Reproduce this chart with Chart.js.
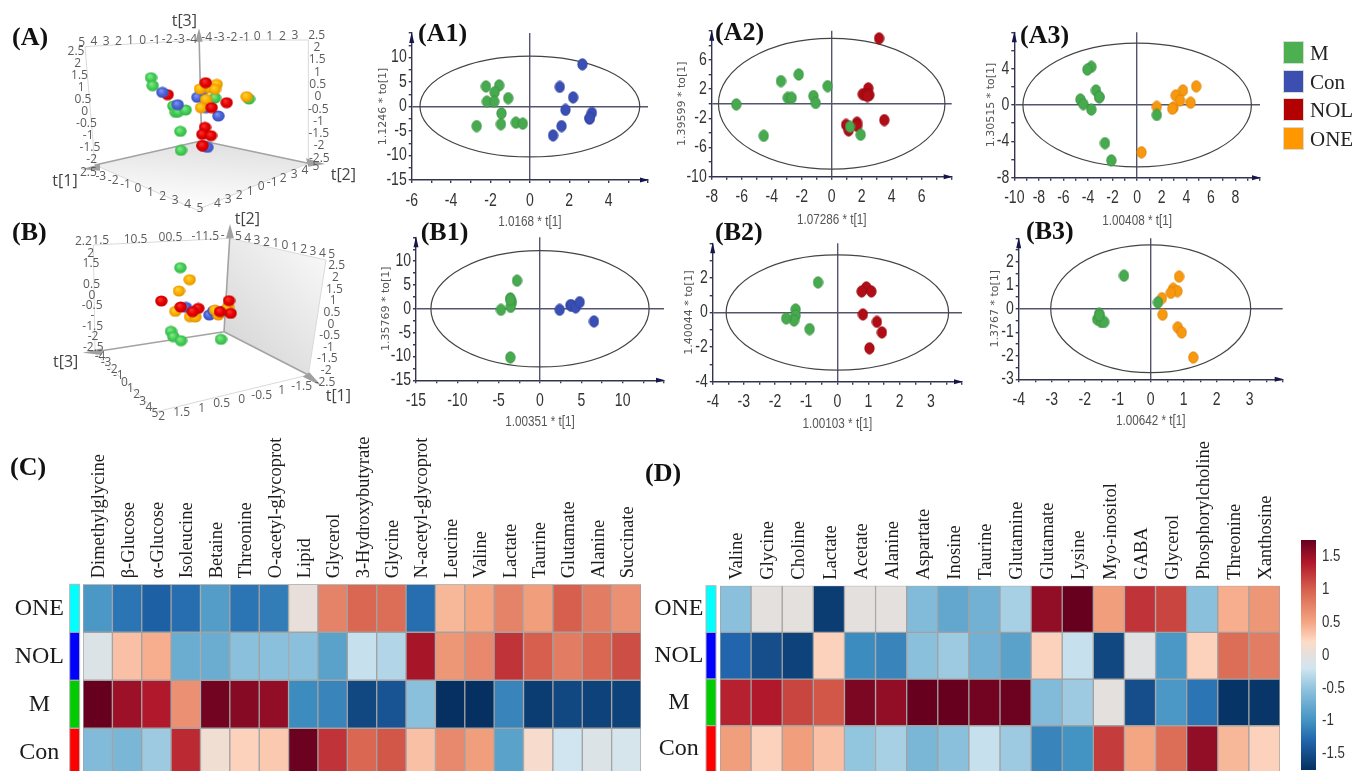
<!DOCTYPE html>
<html>
<head>
<meta charset="utf-8">
<title>PCA and OPLS-DA scores with metabolite heatmaps</title>
<script src="https://cdn.jsdelivr.net/npm/chart.js@4/dist/chart.umd.min.js"></script>
<style>
  html, body { margin: 0; padding: 0; background: #fff; overflow: hidden; }
  #page { position: relative; width: 1354px; height: 771px; overflow: hidden; }
  #page canvas { position: absolute; left: 0; top: 0; pointer-events: none; filter: blur(0.35px); }
  .tag { position: absolute; font: bold 26px "Liberation Serif", serif; color: #111; line-height: 30px; white-space: nowrap; }
  .swatch { position: absolute; left: 1283px; width: 21px; height: 23px; border: 1px solid #d5dcd5; box-sizing: border-box; }
  .key { position: absolute; left: 1310px; font: 21px "Liberation Serif", serif; color: #222; line-height: 24px; }
</style>
</head>
<body>
<div id="page"></div>
<script>
'use strict';

// ---- OPLS-DA score values, [t, to] ----
const a1Green = [[-2.23,4.1],[-1.56,4.3],[-1.79,2.9],[-1.1,1.7],[-2.18,1.0],[-1.81,1.0],[-1.44,-1.4],[-1.47,-3.6],[-2.7,-4.0],[-0.71,-3.3],[-0.36,-3.5]];
const a1Blue = [[2.67,8.6],[1.52,4.0],[2.2,1.85],[1.81,-0.7],[3.15,-1.3],[3.03,-2.5],[3.05,-2.3],[1.61,-4.0],[1.18,-5.9]];
const a2Green = [[-6.36,-0.1],[-4.53,-4.4],[-3.38,3.1],[-2.2,4.0],[-2.93,0.8],[-2.67,0.8],[-1.22,1.05],[-1.07,0.1],[-0.27,2.4],[1.93,-4.25],[1.22,-3.15]];
const a2Red = [[3.16,8.95],[2.44,2.1],[2.07,1.3],[2.27,1.2],[2.51,1.2],[2.38,1.05],[3.51,-2.25],[1.69,-2.6],[1.69,-3.05],[0.96,-2.9],[1.13,-3.65]];
const a3Green = [[-3.73,4.2],[-4.05,3.9],[-3.35,1.6],[-3.08,0.85],[-3.1,0.9],[-4.62,0.6],[-4.38,0.1],[-3.73,-0.5],[-2.62,-4.2],[-2.1,-6.1],[1.6,-1.1]];
const a3Orange = [[4.81,2.05],[3.73,1.6],[3.14,1.05],[3.49,0.5],[4.35,0.25],[2.95,-0.3],[2.86,-0.4],[1.6,-0.2],[0.35,-5.2]];
const b1Green = [[-2.78,5.9],[-3.59,2.2],[-3.39,1.4],[-3.55,0.4],[-4.72,-0.2],[-3.59,-10.2],[-3.6,1.9]];
const b1Blue = [[2.38,-0.2],[3.67,0.75],[3.85,0.7],[4.31,0.3],[4.8,1.4],[6.53,-2.65]];
const b2Green = [[-0.62,1.74],[-1.34,0.17],[-1.34,-0.17],[-1.39,-0.46],[-1.64,-0.34],[-0.89,-0.96]];
const b2Red = [[0.93,1.45],[0.78,1.22],[1.09,1.22],[0.82,-0.11],[1.27,-0.54],[1.43,-1.15],[1.03,-2.07]];
const b3Green = [[-0.81,1.41],[-1.56,-0.21],[-1.62,-0.45],[-1.5,-0.56],[-1.41,-0.56],[-1.56,-0.28],[0.22,0.27]];
const b3Orange = [[0.86,1.37],[0.68,0.85],[0.81,0.75],[0.61,0.68],[0.34,0.45],[0.36,-0.25],[0.82,-0.79],[0.94,-1.01],[1.29,-2.07]];

// tick labels that are printed, the other ticks stay unlabelled
const a1XTicks = [-6,-4,-2,0,2,4];
const a1YTicks = [-15,-10,-5,0,5,10];
const a2XTicks = [-8,-6,-4,-2,0,2,4,6];
const a2YTicks = [-10,-6,-2,2,6];
const a3XTicks = [-10,-8,-6,-4,-2,0,2,4,6,8];
const a3YTicks = [-8,-4,0,4];
const b1XTicks = [-15,-10,-5,0,5,10];
const b1YTicks = [-15,-10,-5,0,5,10];
const b2XTicks = [-4,-3,-2,-1,0,1,2,3];
const b2YTicks = [-4,-2,0,2];
const b3XTicks = [-4,-3,-2,-1,0,1,2,3];
const b3YTicks = [-3,-2,-1,0,1,2];

// ---- projected 3D score plots, in view units of each picture ----
const viewAGreen = [[453,203],[458,227],[520,288],[527,307],[535,305],[557,300],[541,364],[543,421],[645,264],[747,267]];
const viewABlue = [[487,247],[533,284],[603,248],[592,262],[618,293],[655,318],[622,412]];
const viewARedBack = [[617,218],[635,293],[608,407]];
const viewARed = [[503,254],[680,278],[615,352],[607,373],[633,377],[608,407]];
const viewAOrange = [[650,223],[625,233],[645,238],[600,237],[618,268],[603,293],[740,260]];
const viewBGreen = [[541,173],[513,364],[520,380],[543,392],[663,388]];
const viewBOrange = [[569,209],[537,243],[526,304],[570,320],[586,321],[655,315],[684,291],[645,300]];
const viewBRed = [[484,273],[542,291],[595,295],[578,305],[687,272],[692,310],[660,305]];
const viewBBlue = [[558,292],[628,315],[640,303],[668,303]];

// ---- heatmaps ----
const heatRows = ['ONE','NOL','M','Con'];
const heatCCols = ['Dimethylglycine','β-Glucose','α-Glucose','Isoleucine','Betaine','Threonine','O-acetyl-glycoprot','Lipid','Glycerol','3-Hydroxybutyrate','Glycine','N-acetyl-glycoprot','Leucine','Valine','Lactate','Taurine','Glutamate','Alanine','Succinate'];
const heatCOne = [-0.95,-1.2,-1.35,-1.25,-0.9,-1.2,-1.15,0.03,0.75,0.95,0.9,-1.25,0.4,0.5,0.75,0.55,1.0,0.8,0.65];
const heatCNol = [-0.1,0.35,0.45,-0.75,-0.75,-0.55,-0.55,-0.55,-0.85,-0.25,-0.35,1.45,0.6,0.7,1.25,1.0,0.8,0.95,1.1];
const heatCM = [1.75,1.5,1.4,0.65,1.7,1.6,1.55,-1.05,-1.1,-1.55,-1.45,-0.55,-1.75,-1.75,-1.1,-1.65,-1.55,-1.6,-1.6];
const heatCCon = [-0.6,-0.65,-0.45,1.3,0.1,0.25,0.3,1.72,1.25,0.95,1.05,0.35,0.7,0.55,-0.85,0.15,-0.2,-0.1,-0.15];
const heatDCols = ['Valine','Glycine','Choline','Lactate','Acetate','Alanine','Aspartate','Inosine','Taurine','Glutamine','Glutamate','Lysine','Myo-inositol','GABA','Glycerol','Phosphorylcholine','Threonine','Xanthosine'];
const heatDOne = [-0.55,0,0,-1.65,0,0,-0.6,-0.8,-0.7,-0.4,1.55,1.75,0.55,1.25,1.15,-0.55,0.45,0.6];
const heatDNol = [-1.3,-1.5,-1.6,0.25,-1.05,-1.1,-0.55,-0.45,-0.7,-0.85,0.25,-0.25,-1.55,-0.05,-0.95,0.25,0.9,0.8];
const heatDM = [1.35,1.4,1.15,1.05,1.65,1.55,1.75,1.75,1.7,1.72,-0.6,-0.45,0,-1.5,-0.95,-1.2,-1.72,-1.7];
const heatDCon = [0.55,0.25,0.55,0.35,-0.5,-0.4,-0.65,-0.55,-0.25,-0.45,-1.1,-1.0,1.2,0.5,0.9,1.55,0.4,0.25];
const barTicks = [-1.5,-1,-0.5,0,0.5,1,1.5];
const groupNames = ['M','Con','NOL','ONE'];

const W = 1354, H = 771;
const SERIF = '"Liberation Serif", serif';
const NARROW = '"Liberation Sans Narrow", "Liberation Sans", sans-serif';
const DEJAVU = '"DejaVu Sans", sans-serif';
const page = document.getElementById('page');

// colour ramp of the bars, [value, colour]
const ramp = [[-1.75,'#053061'],[-1.3,'#2166ac'],[-1,'#4393c3'],[-0.5,'#92c5de'],[-0.2,'#d1e5f0'],[0,'#e4e0dd'],[0.2,'#fddbc7'],[0.5,'#f4a582'],[1,'#d6604d'],[1.4,'#b2182b'],[1.75,'#67001f']];

Chart.defaults.animation = false;
Chart.defaults.responsive = false;
Chart.defaults.plugins.legend.display = false;
Chart.defaults.plugins.tooltip.enabled = false;

function newCanvas() {
  const c = document.createElement('canvas');
  c.width = W;
  c.height = H;
  page.appendChild(c);
  // no narrow face is installed, so the axis text is squeezed by hand
  const g = c.getContext('2d');
  const fill = g.fillText.bind(g);
  g.fillText = (t, x, y) => {
    if (g.font.indexOf('Narrow') < 0) return fill(t, x, y);
    g.save();
    g.translate(x, y);
    g.scale(0.78, 1);
    fill(t, 0, 0);
    g.restore();
  };
  return c;
}

function pts(list) {
  return list.map(p => ({ x: p[0], y: p[1] }));
}

function hexRgb(h) {
  return [1, 3, 5].map(i => parseInt(h.substr(i, 2), 16));
}

function rampColor(v) {
  v = Math.max(ramp[0][0], Math.min(ramp[ramp.length - 1][0], v));
  let i = 0;
  while (i < ramp.length - 2 && v > ramp[i + 1][0]) i++;
  const t = (v - ramp[i][0]) / (ramp[i + 1][0] - ramp[i][0]);
  const a = hexRgb(ramp[i][1]), b = hexRgb(ramp[i + 1][1]);
  return 'rgb(' + a.map((c, k) => Math.round(c + (b[k] - c) * t)).join(',') + ')';
}

// oval marker of the score plots
function ovalSprite(fill, edge) {
  const c = document.createElement('canvas');
  c.width = 11;
  c.height = 13;
  const g = c.getContext('2d');
  g.beginPath();
  g.ellipse(5.5, 6.5, 4.7, 5.7, 0, 0, Math.PI * 2);
  g.fillStyle = fill;
  g.fill();
  g.lineWidth = 0.8;
  g.strokeStyle = edge;
  g.stroke();
  return c;
}

// shaded ball of the 3D plots
function ballSprite(light, mid, dark) {
  const c = document.createElement('canvas');
  c.width = 13;
  c.height = 12;
  const g = c.getContext('2d');
  g.translate(6.5, 6);
  g.scale(1, 0.9);
  const rg = g.createRadialGradient(-1.5, -2, 0.5, 0, 0, 6.4);
  rg.addColorStop(0, light);
  rg.addColorStop(0.55, mid);
  rg.addColorStop(1, dark);
  g.fillStyle = rg;
  g.beginPath();
  g.arc(0, 0, 6.2, 0, Math.PI * 2);
  g.fill();
  return c;
}

const ovalGreen = ovalSprite('#47aa4e', '#3a9142');
const ovalBlue = ovalSprite('#3a4fb6', '#324399');
const ovalRed = ovalSprite('#b00d16', '#950a12');
const ovalOrange = ovalSprite('#f8980e', '#d9820c');
const ballGreen = ballSprite('#7fe88a', '#43cf55', '#35b046');
const ballBlue = ballSprite('#7f92ee', '#4a63d8', '#3a4fb8');
const ballRed = ballSprite('#f83030', '#e60000', '#c00000');
const ballOrange = ballSprite('#ffd030', '#fbb000', '#e09000');

// ---- score plot ----
function scorePlot(cfg) {
  const textColor = '#555';
  const yTitleLh = 13.2, xTitleLh = 18;
  const boxW = cfg.box[0] - (cfg.yTitle[1] - yTitleLh / 2);
  const boxH = cfg.xTitle[1] + xTitleLh / 2 - cfg.box[3];

  const frame = {
    id: 'frame',
    beforeDatasetsDraw(chart) {
      const g = chart.ctx, sx = chart.scales.x, sy = chart.scales.y;
      const cx = sx.getPixelForValue(0), cy = sy.getPixelForValue(0);
      g.save();
      g.strokeStyle = '#444';
      g.lineWidth = 1.2;
      g.beginPath();
      g.ellipse(cx, cy, sx.getPixelForValue(cfg.ellipse[0]) - cx, cy - sy.getPixelForValue(cfg.ellipse[1]), 0, 0, Math.PI * 2);
      g.stroke();
      // axis arrow heads
      const a = chart.chartArea;
      g.fillStyle = '#16164a';
      g.beginPath();
      g.moveTo(a.left, a.top - 1);
      g.lineTo(a.left - 2.5, a.top + 10);
      g.lineTo(a.left + 2.5, a.top + 10);
      g.closePath();
      g.moveTo(a.right + 1, a.bottom);
      g.lineTo(a.right - 8, a.bottom - 2.5);
      g.lineTo(a.right - 8, a.bottom + 2.5);
      g.closePath();
      g.fill();
      g.restore();
    }
  };

  const crossGrid = {
    drawTicks: true,
    tickLength: 3,
    tickColor: '#3a3a55',
    lineWidth: 1.4,
    color: c => (c.tick && c.tick.value === 0) ? '#55556f' : 'rgba(0,0,0,0)'
  };

  function axis(min, max, step, labels) {
    return {
      type: 'linear',
      min: min,
      max: max,
      grid: crossGrid,
      border: { display: true, color: '#33344f', width: 1.4 },
      ticks: {
        stepSize: step,
        autoSkip: false,
        maxRotation: 0,
        color: '#333',
        font: { family: NARROW, size: 18 },
        callback: v => labels.includes(v) ? String(v) : ''
      }
    };
  }

  const xAxis = axis(cfg.xRange[0], cfg.xRange[1], cfg.xStep, cfg.xLabels);
  xAxis.ticks.padding = 7;
  xAxis.title = { display: true, text: cfg.xName, color: textColor, padding: 0, font: { family: NARROW, size: 15, lineHeight: 1.2 } };
  xAxis.afterFit = s => { s.height = boxH; };

  const yAxis = axis(cfg.yRange[0], cfg.yRange[1], cfg.yStep, cfg.yLabels);
  yAxis.ticks.padding = 2;
  yAxis.title = { display: true, text: cfg.yName, color: textColor, padding: 0, font: { family: DEJAVU, size: 11, lineHeight: 1.2 } };
  yAxis.afterFit = s => { s.width = boxW; };

  new Chart(newCanvas(), {
    type: 'scatter',
    data: {
      datasets: cfg.series.map(s => ({ data: pts(s[0]), pointStyle: s[1], pointRadius: 5 }))
    },
    options: {
      layout: {
        autoPadding: false,
        padding: { left: cfg.box[0] - boxW, top: cfg.box[1], right: W - cfg.box[2], bottom: H - cfg.box[3] - boxH }
      },
      scales: { x: xAxis, y: yAxis }
    },
    plugins: [frame]
  });
}

scorePlot({
  box: [411.7, 33, 648, 180], xRange: [-6, 6], yRange: [-15, 15], xStep: 1, yStep: 2.5,
  xLabels: a1XTicks, yLabels: a1YTicks, ellipse: [5.58, 10.3],
  xName: '1.0168 * t[1]', yName: '1.1246 * to[1]', xTitle: [530, 222], yTitle: [100, 382.7],
  series: [[a1Green, ovalGreen], [a1Blue, ovalBlue]]
});
scorePlot({
  box: [711.7, 30.7, 951.7, 176.7], xRange: [-8, 8], yRange: [-10, 10], xStep: 1, yStep: 2,
  xLabels: a2XTicks, yLabels: a2YTicks, ellipse: [7.55, 8.95],
  xName: '1.07286 * t[1]', yName: '1.39599 * to[1]', xTitle: [832, 220], yTitle: [103, 682.3],
  series: [[a2Green, ovalGreen], [a2Red, ovalRed]]
});
scorePlot({
  box: [1014.3, 32.3, 1260, 177.7], xRange: [-10, 10], yRange: [-8, 8], xStep: 1, yStep: 2,
  xLabels: a3XTicks, yLabels: a3YTicks, ellipse: [9.3, 6.8],
  xName: '1.00408 * t[1]', yName: '1.30515 * to[1]', xTitle: [1137.7, 220.7], yTitle: [105, 990.7],
  series: [[a3Green, ovalGreen], [a3Orange, ovalOrange]]
});
scorePlot({
  box: [416, 237.3, 664, 380.3], xRange: [-15, 15], yRange: [-15, 15], xStep: 2.5, yStep: 2.5,
  xLabels: b1XTicks, yLabels: b1YTicks, ellipse: [13.2, 12.2],
  xName: '1.00351 * t[1]', yName: '1.35769 * to[1]', xTitle: [540, 422.3], yTitle: [308, 386],
  series: [[b1Green, ovalGreen], [b1Blue, ovalBlue]]
});
scorePlot({
  box: [712.7, 243.3, 962, 381.7], xRange: [-4, 4], yRange: [-4, 4], xStep: 0.5, yStep: 1,
  xLabels: b2XTicks, yLabels: b2YTicks, ellipse: [3.57, 3.33],
  xName: '1.00103 * t[1]', yName: '1.40044 * to[1]', xTitle: [837.7, 424.3], yTitle: [311.7, 689.3],
  series: [[b2Green, ovalGreen], [b2Red, ovalRed]]
});
scorePlot({
  box: [1018.7, 238.3, 1282.7, 379.3], xRange: [-4, 4], yRange: [-3, 3], xStep: 0.5, yStep: 0.5,
  xLabels: b3XTicks, yLabels: b3YTicks, ellipse: [3.03, 2.72],
  xName: '1.00642 * t[1]', yName: '1.3767 * to[1]', xTitle: [1150.7, 421], yTitle: [308, 995],
  series: [[b3Green, ovalGreen], [b3Orange, ovalOrange]]
});

// ---- 3D plots, the box is drawn in the same view units as the balls ----
function boxPlot(cfg) {
  const scene = {
    id: 'scene',
    beforeDatasetsDraw(chart) {
      const g = chart.ctx, sx = chart.scales.x, sy = chart.scales.y;
      const X = v => sx.getPixelForValue(v), Y = v => sy.getPixelForValue(v);
      g.save();

      cfg.fills.forEach(f => {
        const grad = g.createLinearGradient(X(f.from[0]), Y(f.from[1]), X(f.to[0]), Y(f.to[1]));
        grad.addColorStop(0, f.colors[0]);
        grad.addColorStop(1, f.colors[1]);
        g.fillStyle = grad;
        g.beginPath();
        f.poly.forEach((p, i) => i ? g.lineTo(X(p[0]), Y(p[1])) : g.moveTo(X(p[0]), Y(p[1])));
        g.closePath();
        g.fill();
      });

      function strokes(list, color, width) {
        g.strokeStyle = color;
        g.lineWidth = width;
        list.forEach(l => {
          g.beginPath();
          g.moveTo(X(l[0]), Y(l[1]));
          g.lineTo(X(l[2]), Y(l[3]));
          g.stroke();
        });
      }
      strokes(cfg.thin, '#d9d9d9', 1);
      strokes(cfg.thick, '#a3a3a3', 1.6);

      g.fillStyle = '#a0a0a0';
      cfg.arrows.forEach(t => {
        g.beginPath();
        t.forEach((p, i) => i ? g.lineTo(X(p[0]), Y(p[1])) : g.moveTo(X(p[0]), Y(p[1])));
        g.closePath();
        g.fill();
      });

      g.textAlign = 'center';
      g.textBaseline = 'middle';
      g.fillStyle = '#5c5c5c';
      g.font = '12px "Open Sans", sans-serif';
      cfg.edges.forEach(e => {
        e.labels.forEach((t, i) => {
          const k = i / (e.labels.length - 1);
          g.fillText(t, X(e.from[0] + (e.to[0] - e.from[0]) * k), Y(e.from[1] + (e.to[1] - e.from[1]) * k));
        });
      });
      g.fillStyle = '#444';
      g.font = '16px "Open Sans", sans-serif';
      cfg.names.forEach(n => g.fillText(n[0], X(n[1]), Y(n[2])));
      g.restore();
    }
  };

  new Chart(newCanvas(), {
    type: 'scatter',
    data: {
      datasets: cfg.series.map(s => ({ data: pts(s[0]), pointStyle: s[1], pointRadius: 5 }))
    },
    options: {
      layout: { autoPadding: false, padding: { left: cfg.box[0], top: cfg.box[1], right: W - cfg.box[2], bottom: H - cfg.box[3] } },
      scales: {
        x: { display: false, min: 0, max: cfg.view[0] },
        y: { display: false, min: 0, max: cfg.view[1], reverse: true }
      }
    },
    plugins: [scene]
  });
}

boxPlot({
  box: [0, 10, 380, 220], view: [1140, 630],
  fills: [{ poly: [[285,465],[605,392],[925,460],[590,600]], from: [605,392], to: [590,600], colors: ['#e0e0e0', '#ffffff'] }],
  thin: [[255,110,597,90],[597,90,925,90],[255,110,285,465],[925,90,925,460],[285,465,590,600],[590,600,925,460]],
  thick: [[285,465,605,392],[605,392,925,460],[605,395,597,70]],
  arrows: [[[597,55],[586,95],[608,95]], [[245,478],[300,462],[300,482]], [[975,462],[918,445],[925,470]]],
  edges: [
    { from: [245,97], to: [575,88], labels: ['5','4','3','2','1','0','-1','-2','-3','-4'] },
    { from: [620,84], to: [885,78], labels: ['-4','-3','-2','-1','0','1','2','3'] },
    { from: [228,125], to: [275,448], labels: ['2.5','2','1.5','1','0.5','0','-0.5','-1','-1.5','-2'] },
    { from: [950,76], to: [958,445], labels: ['2.5','2','1.5','1','0.5','0','-0.5','-1','-1.5','-2','-2.5'] },
    { from: [265,487], to: [600,597], labels: ['2.5','-3','-2','-1','0','1','2','3','4','5'] },
    { from: [652,580], to: [948,470], labels: ['4','3','2','1','0','-1','2','3','4','5'] }
  ],
  names: [['t[3]',553,33], ['t[1]',195,513], ['t[2]',1030,495]],
  series: [[viewARedBack, ballRed], [viewAOrange, ballOrange], [viewABlue, ballBlue], [viewAGreen, ballGreen], [viewARed, ballRed]]
});
boxPlot({
  box: [0, 210, 380, 430], view: [1140, 660],
  fills: [{ poly: [[690,85],[978,150],[925,495],[672,365]], from: [690,400], to: [978,130], colors: ['#d8d8d8', '#f8f8f8'] }],
  thin: [[280,105,690,85],[690,85,978,150],[280,105,285,425],[978,150,925,495],[925,495,470,605],[470,605,280,425]],
  thick: [[285,425,672,365],[672,365,925,495],[672,365,690,70]],
  arrows: [[[690,42],[678,85],[702,85]], [[248,428],[305,415],[305,435]], [[965,528],[908,500],[928,487]]],
  edges: [
    { from: [250,95], to: [668,76], labels: ['2.2','1.5','','10.5','','00.5','','-11.5','-'] },
    { from: [715,80], to: [995,135], labels: ['5','4','3','2','1','0','1','2','3','4','5'] },
    { from: [272,130], to: [280,412], labels: ['2','1.5','','0.5','0','-0.5','-','-1.5','-2','-2.5'] },
    { from: [1010,168], to: [975,517], labels: ['2.5','2','1.5','1','0.5','0','-0.5','-1','-1.5','-2','-2.5'] },
    { from: [300,440], to: [465,612], labels: ['-4','-3','-2','-1','0','1','2','3','4','5'] },
    { from: [485,620], to: [905,530], labels: ['2','1.5','1','0.5','0','-0.5','1','-1.5'] }
  ],
  names: [['t[2]',742,28], ['t[3]',197,458], ['t[1]',1015,558]],
  series: [[viewBRed, ballRed], [viewBOrange, ballOrange], [viewBBlue, ballBlue], [viewBGreen, ballGreen]]
});

// ---- heatmaps, floating bars one row high ----
function heatmap(cfg) {
  const strip = {
    id: 'strip',
    afterDatasetsDraw(chart) {
      const g = chart.ctx, sy = chart.scales.y;
      g.save();
      cfg.stripColors.forEach((c, i) => {
        const top = sy.getPixelForValue(4 - i), bot = sy.getPixelForValue(3 - i);
        g.fillStyle = c;
        g.fillRect(cfg.strip[0], top, cfg.strip[1] - cfg.strip[0], bot - top);
        g.strokeStyle = '#b5b5b5';
        g.lineWidth = 1;
        g.strokeRect(cfg.strip[0], top, cfg.strip[1] - cfg.strip[0], bot - top);
      });
      g.restore();
    }
  };

  new Chart(newCanvas(), {
    type: 'bar',
    data: {
      labels: cfg.cols,
      datasets: cfg.rows.map((vals, i) => ({
        data: vals.map(() => [3 - i, 4 - i]),
        backgroundColor: vals.map(rampColor),
        borderColor: '#a2a2a2',
        borderWidth: 1,
        borderSkipped: false,
        barPercentage: 1,
        categoryPercentage: 1,
        grouped: false
      }))
    },
    options: {
      layout: { autoPadding: false, padding: { left: cfg.left - 70, top: cfg.top - 150, right: W - cfg.right, bottom: 0 } },
      scales: {
        x: {
          type: 'category',
          position: 'top',
          grid: { display: false, drawTicks: false },
          border: { display: false },
          ticks: {
            autoSkip: false,
            minRotation: 90,
            maxRotation: 90,
            padding: 6,
            labelOffset: 24,
            color: '#1c1c1c',
            font: { family: SERIF, size: 18.5 }
          },
          afterFit: s => { s.height = 150; }
        },
        y: {
          type: 'linear',
          min: cfg.yMin,
          max: 4,
          grid: { display: false, drawTicks: false },
          border: { display: false },
          afterBuildTicks: s => { s.ticks = heatRows.map((_, i) => ({ value: 3.5 - i })); },
          ticks: {
            padding: cfg.rowPad,
            crossAlign: 'center',
            color: '#1c1c1c',
            font: { family: SERIF, size: 24 },
            callback: v => heatRows[Math.round(3.5 - v)]
          },
          afterFit: s => { s.width = 70; s.paddingTop = 0; s.paddingBottom = 0; }
        }
      }
    },
    plugins: [strip]
  });
}

const stripColors = ['#00ffff', '#0000ff', '#00cc00', '#ff0000'];
heatmap({
  cols: heatCCols, rows: [heatCOne, heatCNol, heatCM, heatCCon],
  left: 83, right: 641, top: 584.3, yMin: 0.11, rowPad: 19, strip: [69.7, 79.6], stripColors: stripColors
});
heatmap({
  cols: heatDCols, rows: [heatDOne, heatDNol, heatDM, heatDCon],
  left: 720, right: 1280, top: 585.7, yMin: 0.03, rowPad: 16.5, strip: [706, 716], stripColors: stripColors
});

// ---- colour bar ----
new Chart(newCanvas(), {
  type: 'bar',
  data: {
    labels: [''],
    datasets: [{
      data: [[-1.75, 1.75]],
      barPercentage: 1,
      categoryPercentage: 1,
      backgroundColor(c) {
        const a = c.chart.chartArea;
        if (!a) return ramp[5][1];
        const grad = c.chart.ctx.createLinearGradient(0, a.bottom, 0, a.top);
        ramp.forEach(s => grad.addColorStop((s[0] + 1.75) / 3.5, s[1]));
        return grad;
      }
    }]
  },
  options: {
    layout: { autoPadding: false, padding: { left: 1301, top: 540, right: 0, bottom: 1 } },
    scales: {
      x: { display: false },
      y: {
        position: 'right',
        min: -1.75,
        max: 1.75,
        grid: { display: false, drawTicks: false },
        border: { display: false },
        afterBuildTicks: s => { s.ticks = barTicks.map(v => ({ value: v })); },
        ticks: {
          padding: 6,
          color: '#333',
          font: { family: NARROW, size: 17 },
          callback: v => String(v)
        },
        afterFit: s => { s.width = 38; s.paddingTop = 0; s.paddingBottom = 0; }
      }
    }
  }
});

// ---- panel tags and group key, plain text over the charts ----
function tag(text, x, cy) {
  const d = document.createElement('div');
  d.className = 'tag';
  d.textContent = text;
  d.style.left = x + 'px';
  d.style.top = (cy - 15) + 'px';
  page.appendChild(d);
}
tag('(A)', 12, 37);
tag('(B)', 12, 232);
tag('(A1)', 418, 33);
tag('(A2)', 715, 32);
tag('(A3)', 1020, 35);
tag('(B1)', 420.7, 232);
tag('(B2)', 715, 232);
tag('(B3)', 1026, 231);
tag('(C)', 10, 467);
tag('(D)', 645, 473);

const swatchColors = ['#4caf50', '#3c4fb0', '#b30000', '#ff9800'];
groupNames.forEach((name, i) => {
  const y = 41 + i * 28.7;
  const s = document.createElement('div');
  s.className = 'swatch';
  s.style.top = y + 'px';
  s.style.background = swatchColors[i];
  page.appendChild(s);
  const k = document.createElement('div');
  k.className = 'key';
  k.textContent = name;
  k.style.top = y + 'px';
  page.appendChild(k);
});
</script>
</body>
</html>
